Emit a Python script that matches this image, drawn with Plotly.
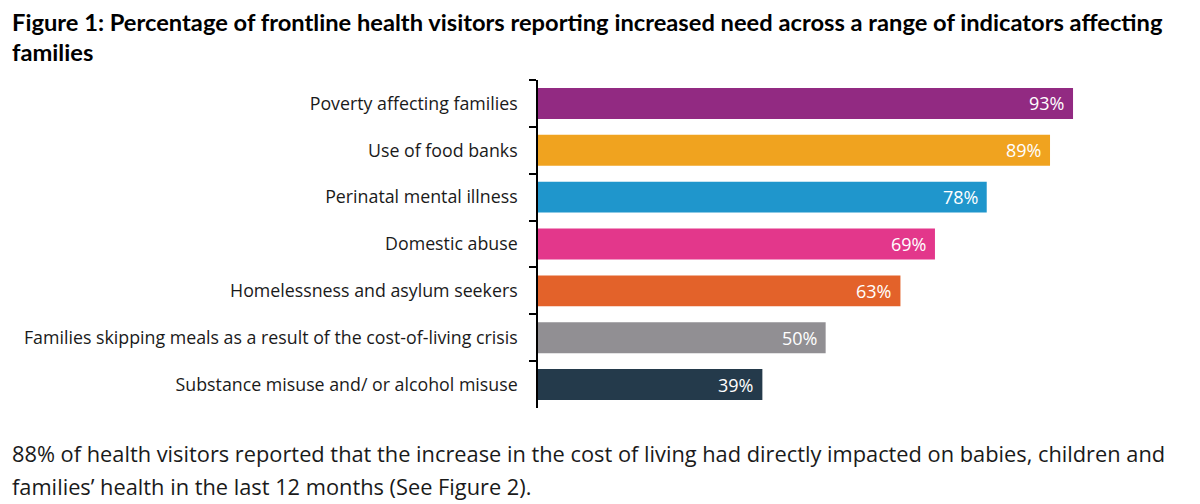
import plotly.graph_objects as go

categories = [
    "Poverty affecting families",
    "Use of food banks",
    "Perinatal mental illness",
    "Domestic abuse",
    "Homelessness and asylum seekers",
    "Families skipping meals as a result of the cost-of-living crisis",
    "Substance misuse and/ or alcohol misuse",
]
values = [93, 89, 78, 69, 63, 50, 39]
colors = ["#922A82", "#F0A31F", "#1F96CC", "#E3378B", "#E3622A", "#918F93", "#243A4B"]

# page has an 8px body margin; work in figure pixels = screen pixels - 8
OFF = 8
W, H = 1200 - OFF, 504 - OFF
L = 538 - OFF
T = 80 - OFF
B = H - (408 - OFF)
R = 0
plot_h = H - T - B

def py(y):
    return (H - B - (y - OFF)) / plot_h

fig = go.Figure()
fig.add_trace(go.Bar(
    y=categories, x=values, orientation="h",
    marker=dict(color=colors, line=dict(width=0)),
    width=0.66, hoverinfo="skip",
))

for c, v in zip(categories, values):
    fig.add_annotation(x=v, y=c, xref="x", yref="y", text=f"{v}%",
                       showarrow=False, xanchor="right", xshift=-7,
                       font=dict(family="Open Sans", size=18, color="#FFFFFF"))

font_text = "Open Sans"
XS = -L + 2
fig.add_annotation(x=0, y=py(22), xref="paper", yref="paper", xanchor="left", yanchor="middle",
                   text="<b>Figure 1: Percentage of frontline health visitors reporting increased need across a range of indicators affecting</b>",
                   showarrow=False, font=dict(family="Lato", size=23.7, color="#000000"),
                   xshift=XS)
fig.add_annotation(x=0, y=py(52), xref="paper", yref="paper", xanchor="left", yanchor="middle",
                   text="<b>families</b>", showarrow=False,
                   font=dict(family="Lato", size=23.7, color="#000000"), xshift=XS)
fig.add_annotation(x=0, y=py(454), xref="paper", yref="paper", xanchor="left", yanchor="middle",
                   text="88% of health visitors reported that the increase in the cost of living had directly impacted on babies, children and",
                   showarrow=False, font=dict(family=font_text, size=21.8, color="#1a1a1a"), xshift=XS)
fig.add_annotation(x=0, y=py(486), xref="paper", yref="paper", xanchor="left", yanchor="middle",
                   text="families’ health in the last 12 months (See Figure 2).",
                   showarrow=False, font=dict(family=font_text, size=21.8, color="#1a1a1a"), xshift=XS)

fig.update_layout(
    width=W, height=H,
    margin=dict(l=L, r=R, t=T, b=B, pad=0),
    paper_bgcolor="white", plot_bgcolor="white",
    showlegend=False,
    xaxis=dict(range=[0, (W - L - R) / 5.753], visible=False, fixedrange=True),
    yaxis=dict(autorange="reversed", showline=True, linecolor="#000000", linewidth=1.5,
               ticks="outside", ticklen=7, tickcolor="#000000", tickwidth=1.5,
               tickson="boundaries", showgrid=False, zeroline=False,
               ticklabelstandoff=15, automargin=False,
               tickfont=dict(family="Open Sans", size=17.8, color="#1a1a1a")),
)

fig.write_html("out.html")
